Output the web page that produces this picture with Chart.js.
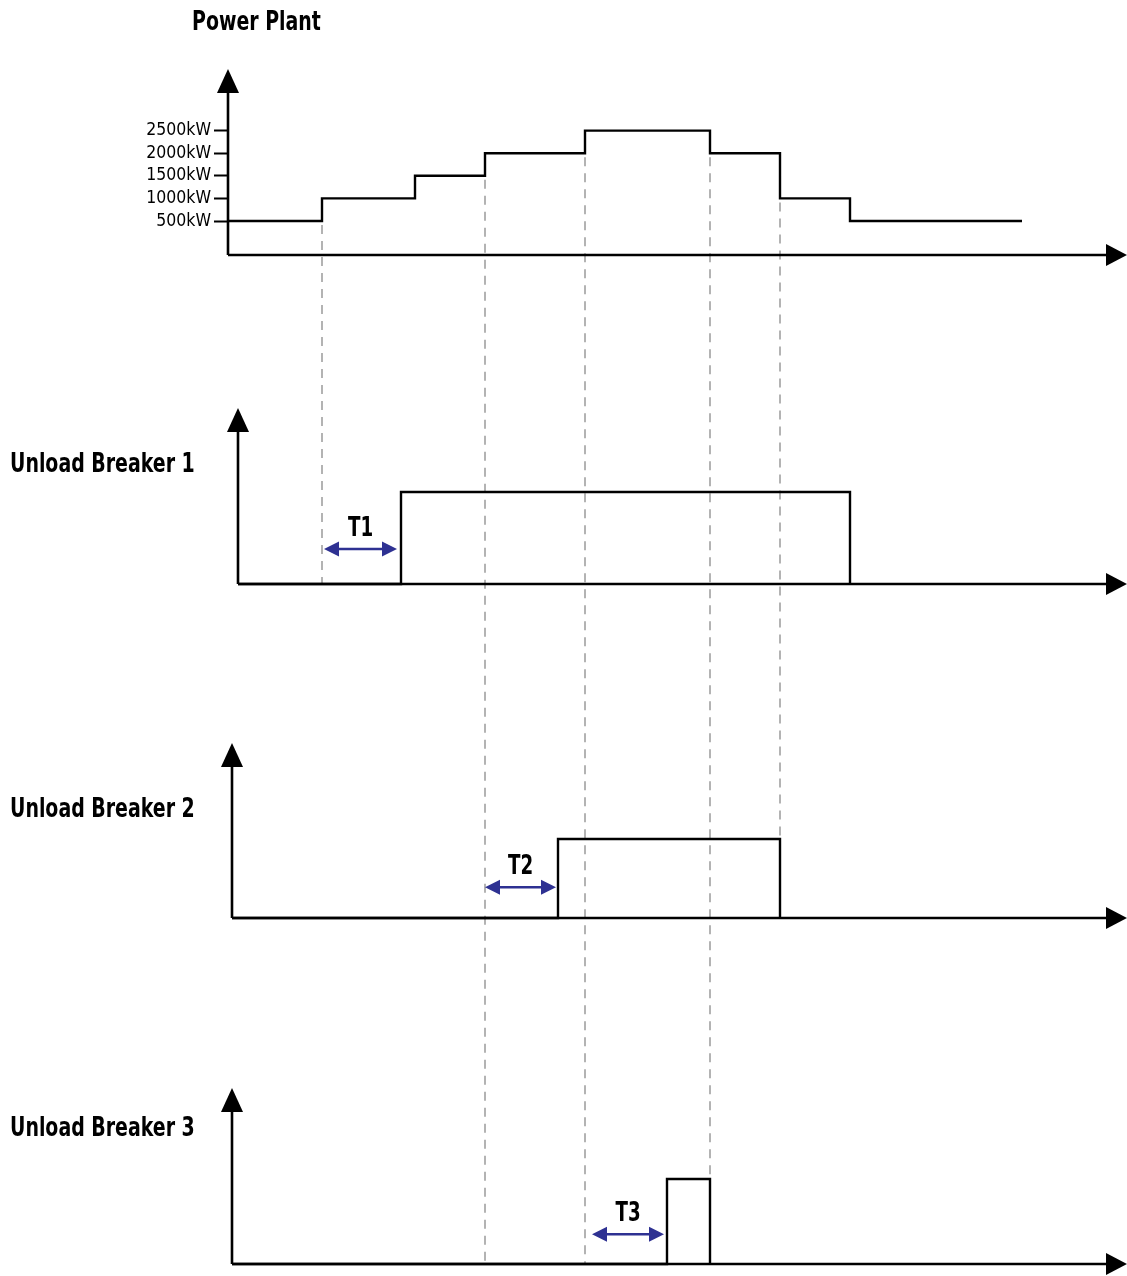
<!DOCTYPE html>
<html>
<head>
<meta charset="utf-8">
<script src="https://cdn.jsdelivr.net/npm/chart.js@4"></script>
<style>
  body { margin: 0; background: #fff; }
  canvas { display: block; }
</style>
</head>
<body>
<canvas id="timing" width="1127" height="1276"></canvas>
<script>
// time runs in plain units, 0 = where the power axes meet
const powerTimes = [0, 94, 187, 257, 357, 482, 552, 622, 794];
const powerValues = [500, 1000, 1500, 2000, 2500, 2000, 1000, 500, 500];
const powerTicks = [500, 1000, 1500, 2000, 2500];

const breaker1Times = [10, 173, 622];
const breaker1Values = [0, 1, 0];
const breaker2Times = [4, 330, 552];
const breaker2Values = [0, 1, 0];
const breaker3Times = [4, 439, 482];
const breaker3Values = [0, 1, 0];

const panelNames = ['Power Plant', 'Unload Breaker 1', 'Unload Breaker 2', 'Unload Breaker 3'];

// grey guide lines: time, and the panel whose baseline they run down to
const guideTimes = [94, 257, 357, 482, 552];
const guideEndPanel = [1, 3, 3, 3, 2];

// delay arrows
const delayNames = ['T1', 'T2', 'T3'];
const delayStart = [96, 257, 364];
const delayEnd = [169, 328, 436];
const delayPanel = [1, 2, 3];
const delayLevel = [0.38, 0.39, 0.35];

// axis geometry of each panel (in its own units)
const axisStart = [0, 10, 4, 4];
const axisBase = [-252, 0, 0, 0];
const axisTip = [3863, 1.913, 2.215, 2.071];
const titlePos = [[192, 23], [10, 465], [10, 810], [10, 1129]];

const FONT = "'DejaVu Sans Condensed', 'Liberation Sans Narrow', sans-serif";
const BLUE = '#2e3192';
const SQUEEZE = 0.78; // the original lettering is a condensed face

function toPoints(times, values) {
    return times.map((t, i) => ({ x: t, y: values[i] }));
}

function stepSet(times, values, axis) {
    return {
        data: toPoints(times, values),
        yAxisID: axis,
        stepped: true,
        borderColor: '#000',
        borderWidth: 2.4,
        borderJoinStyle: 'miter',
        pointRadius: 0,
        fill: false,
        clip: false
    };
}

function hiddenY(min, max) {
    return { type: 'linear', display: false, min: min, max: max };
}

function arrowHead(ctx, x, y, dir, len, half) {
    ctx.beginPath();
    if (dir === 'up') {
        ctx.moveTo(x, y); ctx.lineTo(x - half, y + len); ctx.lineTo(x + half, y + len);
    } else if (dir === 'right') {
        ctx.moveTo(x, y); ctx.lineTo(x - len, y - half); ctx.lineTo(x - len, y + half);
    } else {
        ctx.moveTo(x, y); ctx.lineTo(x + len, y - half); ctx.lineTo(x + len, y + half);
    }
    ctx.closePath();
    ctx.fill();
}

function narrowText(ctx, text, x, y, align) {
    ctx.save();
    ctx.translate(x, y);
    ctx.scale(SQUEEZE, 1);
    ctx.textAlign = align;
    ctx.fillText(text, 0, 0);
    ctx.restore();
}

const timingPlugin = {
    id: 'timing',
    beforeDatasetsDraw(chart) {
        const ctx = chart.ctx;
        const x = chart.scales.x;
        const ys = ['y0', 'y1', 'y2', 'y3'].map(id => chart.scales[id]);
        ctx.save();

        // dashed guides
        ctx.strokeStyle = '#b3b3b3';
        ctx.lineWidth = 2;
        ctx.setLineDash([9, 7]);
        guideTimes.forEach((t, i) => {
            const k = powerTimes.indexOf(t);
            const low = Math.min(powerValues[k - 1], powerValues[k]);
            const px = x.getPixelForValue(t);
            ctx.beginPath();
            ctx.moveTo(px, ys[0].getPixelForValue(low) + 4);
            ctx.lineTo(px, ys[guideEndPanel[i]].getPixelForValue(0));
            ctx.stroke();
        });
        ctx.setLineDash([]);

        // axes with arrow heads
        ctx.strokeStyle = '#000';
        ctx.fillStyle = '#000';
        ctx.lineWidth = 2.6;
        ys.forEach((y, i) => {
            const ox = x.getPixelForValue(axisStart[i]);
            const oy = y.getPixelForValue(axisBase[i]);
            const tip = y.getPixelForValue(axisTip[i]);
            ctx.beginPath();
            ctx.moveTo(ox, oy);
            ctx.lineTo(ox, tip + 20);
            ctx.moveTo(ox, oy);
            ctx.lineTo(x.right - 18, oy);
            ctx.stroke();
            arrowHead(ctx, ox, tip, 'up', 24, 11);
            arrowHead(ctx, x.right, oy, 'right', 21, 11);
        });
        ctx.restore();
    },
    afterDraw(chart) {
        const ctx = chart.ctx;
        const x = chart.scales.x;
        const ys = ['y0', 'y1', 'y2', 'y3'].map(id => chart.scales[id]);
        ctx.save();

        // panel titles
        ctx.fillStyle = '#000';
        ctx.textBaseline = 'middle';
        ctx.font = 'bold 27px ' + FONT;
        panelNames.forEach((name, i) => {
            narrowText(ctx, name, titlePos[i][0], titlePos[i][1], 'left');
        });

        // delay arrows
        delayNames.forEach((name, i) => {
            const y = ys[delayPanel[i]].getPixelForValue(delayLevel[i]);
            const x1 = x.getPixelForValue(delayStart[i]);
            const x2 = x.getPixelForValue(delayEnd[i]);
            ctx.strokeStyle = BLUE;
            ctx.fillStyle = BLUE;
            ctx.lineWidth = 2.5;
            ctx.beginPath();
            ctx.moveTo(x1 + 10, y);
            ctx.lineTo(x2 - 10, y);
            ctx.stroke();
            arrowHead(ctx, x1, y, 'left', 15, 7.5);
            arrowHead(ctx, x2, y, 'right', 15, 7.5);
            ctx.fillStyle = '#000';
            ctx.font = 'bold 26px ' + FONT;
            narrowText(ctx, name, (x1 + x2) / 2, y - 20, 'center');
        });
        ctx.restore();
    }
};

new Chart(document.getElementById('timing'), {
    type: 'line',
    data: {
        datasets: [
            stepSet(powerTimes, powerValues, 'y0'),
            stepSet(breaker1Times, breaker1Values, 'y1'),
            stepSet(breaker2Times, breaker2Values, 'y2'),
            stepSet(breaker3Times, breaker3Values, 'y3')
        ]
    },
    options: {
        responsive: false,
        animation: false,
        layout: { padding: { top: 20, bottom: 20, left: 0, right: 0 } },
        plugins: {
            legend: { display: false },
            tooltip: { enabled: false }
        },
        scales: {
            x: { type: 'linear', display: false, min: 0, max: 899 },
            y0: {
                type: 'linear',
                position: 'left',
                min: -22398,
                max: 4947,
                afterFit: scale => { scale.width = 228; },
                afterBuildTicks: scale => { scale.ticks = powerTicks.map(v => ({ value: v })); },
                border: { display: false },
                grid: {
                    drawOnChartArea: false,
                    drawTicks: true,
                    tickLength: 14,
                    tickWidth: 2,
                    tickColor: '#000'
                },
                ticks: {
                    autoSkip: false,
                    padding: 3,
                    color: '#000',
                    font: { family: FONT, size: 17.5, lineHeight: 1 },
                    callback: v => v + 'kW'
                }
            },
            y1: hiddenY(-7.304, 6.130),
            y2: hiddenY(-4.278, 11.367),
            y3: hiddenY(0.094, 14.635)
        }
    },
    plugins: [timingPlugin]
});
</script>
</body>
</html>
